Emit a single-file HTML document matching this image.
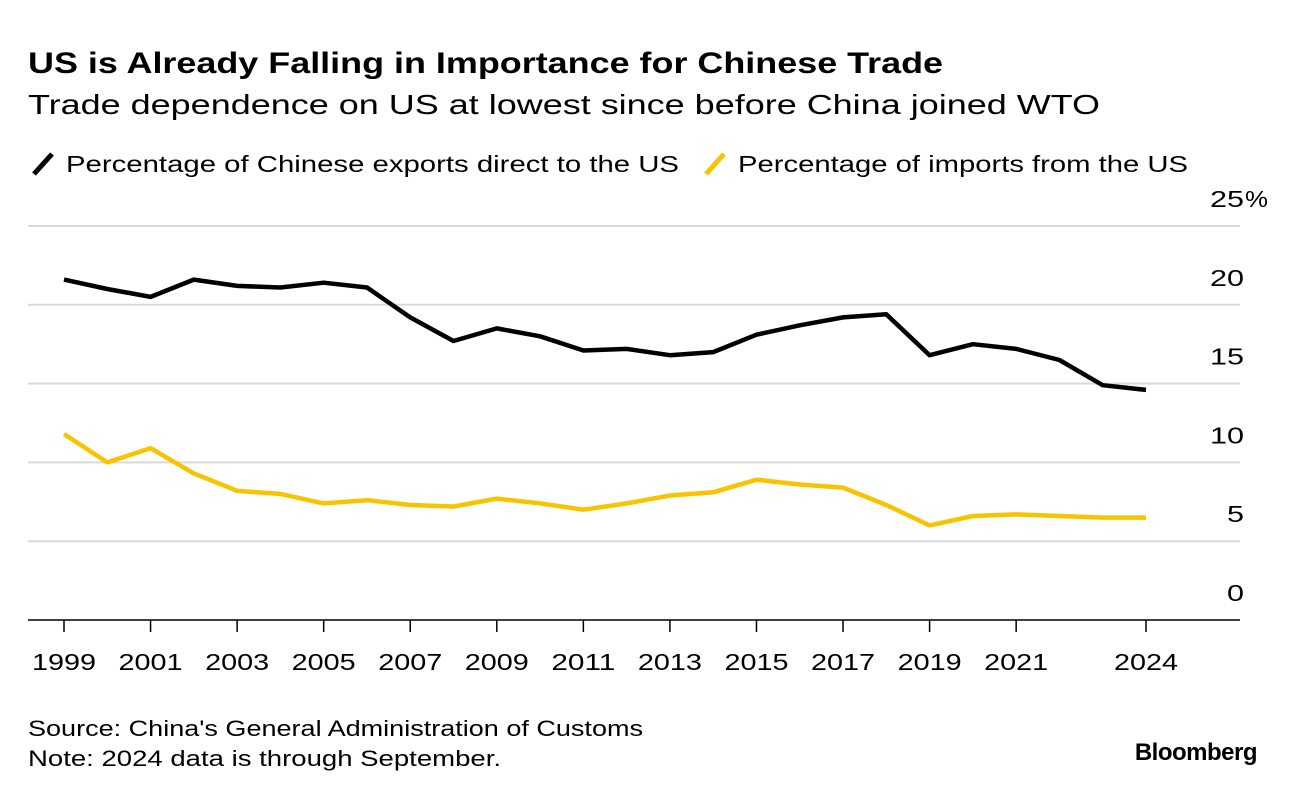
<!DOCTYPE html>
<html><head><meta charset="utf-8"><style>
body{margin:0;background:#fff;width:1296px;height:798px;overflow:hidden;font-family:"Liberation Sans",Arial,sans-serif;}
</style></head><body>
<svg width="1296" height="798" style="position:absolute;left:0;top:0">
<text x="28" y="73" font-size="30" font-weight="bold" fill="#000" textLength="915" lengthAdjust="spacingAndGlyphs">US is Already Falling in Importance for Chinese Trade</text>
<text x="28" y="114" font-size="28" fill="#000" textLength="1072" lengthAdjust="spacingAndGlyphs">Trade dependence on US at lowest since before China joined WTO</text>
<g>
<line x1="34" y1="174" x2="52" y2="154" stroke="#000" stroke-width="5"/>
<text x="66" y="172" font-size="23" textLength="613" lengthAdjust="spacingAndGlyphs">Percentage of Chinese exports direct to the US</text>
<line x1="706" y1="174" x2="724" y2="154" stroke="#f8c400" stroke-width="5"/>
<text x="738" y="172" font-size="23" textLength="450" lengthAdjust="spacingAndGlyphs">Percentage of imports from the US</text>
</g>
<g id="grid"></g><g id="xaxis"></g><g id="series"></g>
<text x="28" y="736" font-size="22" textLength="615" lengthAdjust="spacingAndGlyphs">Source: China's General Administration of Customs</text>
<text x="28" y="766" font-size="22" textLength="473" lengthAdjust="spacingAndGlyphs">Note: 2024 data is through September.</text>
<text x="1257" y="760" font-size="24" font-weight="bold" text-anchor="end" letter-spacing="-0.5">Bloomberg</text>
</svg>
<script>
const years=[1999,2000,2001,2002,2003,2004,2005,2006,2007,2008,2009,2010,2011,2012,2013,2014,2015,2016,2017,2018,2019,2020,2021,2022,2023,2024];
const exportsUS=[21.6,21.0,20.5,21.6,21.2,21.1,21.4,21.1,19.2,17.7,18.5,18.0,17.1,17.2,16.8,17.0,18.1,18.7,19.2,19.4,16.8,17.5,17.2,16.5,14.9,14.6];
const importsUS=[11.8,10.0,10.9,9.3,8.2,8.0,7.4,7.6,7.3,7.2,7.7,7.4,7.0,7.4,7.9,8.1,8.9,8.6,8.4,7.3,6.0,6.6,6.7,6.6,6.5,6.5];
const yTicks=[0,5,10,15,20,25];
const xTickLabels=[1999,2001,2003,2005,2007,2009,2011,2013,2015,2017,2019,2021,2024];
const NS="http://www.w3.org/2000/svg";
const x=v=>64+(v-1999)*43.28;
const y=v=>620-v*15.76;
function mk(t,a,p){const e=document.createElementNS(NS,t);for(const k in a)e.setAttribute(k,a[k]);p.appendChild(e);return e;}
const grid=document.getElementById('grid');
yTicks.forEach(t=>{
 const l=mk('line',{x1:28,x2:1240,y1:y(t),y2:y(t),stroke:t===0?'#000':'#d9d9d9','stroke-width':t===0?1.5:2},grid);
 
 
 const s=String(t);
 const tx=mk('text',{x:1244,y:y(t)-19,'font-size':23,'text-anchor':'end',textLength:s.length*17,lengthAdjust:'spacingAndGlyphs'},grid);
 tx.textContent=s;
 
 
 if(t===25){const pc=mk('text',{x:1245,y:y(t)-19,'font-size':23,textLength:23,lengthAdjust:'spacingAndGlyphs'},grid);pc.textContent='%';
 
 }
});
const xa=document.getElementById('xaxis');
xTickLabels.forEach(t=>{
 const l=mk('line',{x1:x(t),x2:x(t),y1:620,y2:632,stroke:'#000','stroke-width':1.5},xa);
 
 
 const tx=mk('text',{x:x(t)-32,y:670,'font-size':23,textLength:64,lengthAdjust:'spacingAndGlyphs'},xa);
 tx.textContent=String(t);
 
 
});
const s=document.getElementById('series');
function line(vals,color,name){
 const d=vals.map((v,i)=>(i?'L':'M')+x(years[i]).toFixed(1)+','+y(v).toFixed(1)).join(' ');
 const p=mk('path',{d:d,fill:'none',stroke:color,'stroke-width':4.5,'stroke-linejoin':'round'},s);
 
 
}
line(importsUS,'#f8c400','imports-from-us-line');
line(exportsUS,'#000','exports-to-us-line');
</script>
</body></html>
